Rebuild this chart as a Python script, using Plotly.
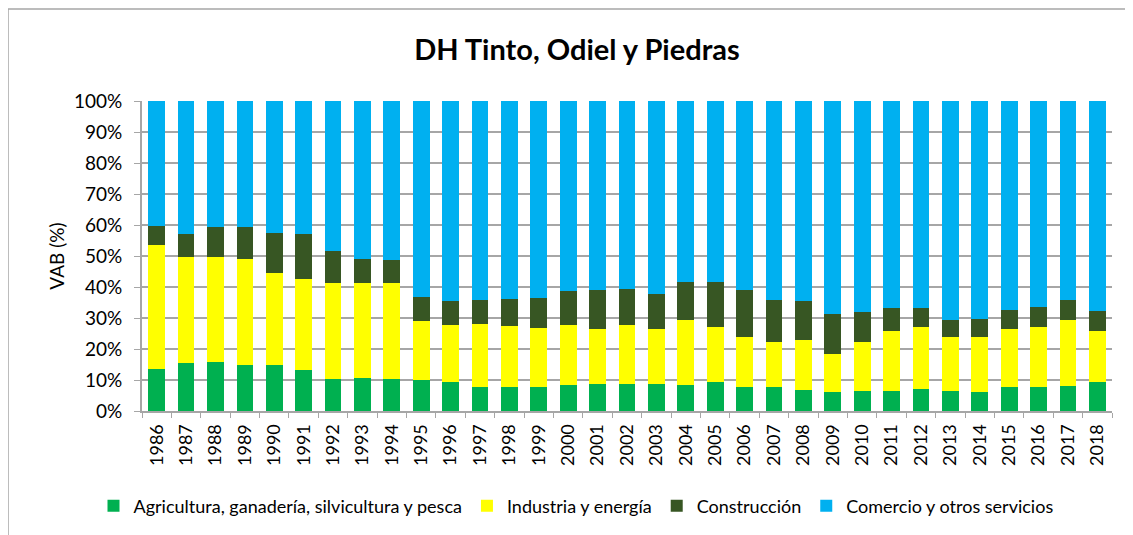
import plotly.graph_objects as go

years = [str(y) for y in range(1986, 2019)]

agricultura = [13.5, 15.4, 15.8, 15.0, 14.8, 13.2, 10.3, 10.6, 10.3, 9.9, 9.4, 7.8, 7.8, 7.6, 8.3, 8.8, 8.8,
               8.8, 8.5, 9.4, 7.6, 7.6, 6.8, 6.1, 6.4, 6.4, 7.0, 6.5, 6.2, 7.8, 7.9, 8.1, 9.5]
industria = [40.0, 34.3, 33.8, 34.1, 29.8, 29.5, 31.0, 30.8, 31.1, 19.1, 18.5, 20.3, 19.7, 19.3, 19.4, 17.8, 18.9,
             17.5, 20.8, 17.7, 16.2, 14.6, 16.1, 12.2, 15.8, 19.4, 20.1, 17.4, 17.6, 18.5, 19.2, 21.4, 16.4]
construccion = [6.2, 7.4, 9.8, 10.3, 12.7, 14.4, 10.2, 7.5, 7.2, 7.7, 7.6, 7.7, 8.6, 9.5, 11.0, 12.3, 11.5,
                11.5, 12.3, 14.4, 15.2, 13.6, 12.6, 13.0, 9.8, 7.4, 6.0, 5.5, 5.9, 6.4, 6.4, 6.3, 6.5]
comercio = [40.3, 42.9, 40.6, 40.6, 42.7, 42.9, 48.5, 51.1, 51.4, 63.3, 64.5, 64.2, 63.9, 63.6, 61.3, 61.1, 60.8,
            62.2, 58.4, 58.5, 61.0, 64.2, 64.5, 68.7, 68.0, 66.8, 66.9, 70.6, 70.3, 67.3, 66.5, 64.2, 67.6]

series = [
    ("Agricultura, ganadería, silvicultura y pesca", agricultura, "#00B050"),
    ("Industria y energía", industria, "#FFFF00"),
    ("Construcción", construccion, "#375623"),
    ("Comercio y otros servicios", comercio, "#00B0F0"),
]

FONT = "Lato"
OFF = 8  # page body margin

fig = go.Figure()
for name, vals, color in series:
    fig.add_trace(go.Bar(x=years, y=vals, name=name, marker=dict(color=color, line=dict(width=0))))

# target page coordinates
L, R, T, B = 142, 1112, 101, 411
W, H = 1133 - OFF, 535 - OFF
l, r, t, b = L - OFF, R - OFF, T - OFF, B - OFF
pw, ph = r - l, b - t

def px(x):
    return (x - OFF - l) / pw

def py(y):
    return (b - (y - OFF)) / ph

fig.update_layout(
    width=W, height=H,
    barmode="stack",
    bargap=0.43,
    plot_bgcolor="white",
    paper_bgcolor="white",
    margin=dict(l=l, r=W - r, t=t, b=H - b, autoexpand=False),
    font=dict(family=FONT, size=19, color="#000000"),
    title=dict(text="<b>DH Tinto, Odiel y Piedras</b>", x=px(577), xref="paper", xanchor="center",
               y=1 - (50 - OFF) / H, yanchor="middle", font=dict(family=FONT, size=29, color="#000000")),
    legend=dict(orientation="h", xref="container", yref="container",
                x=(576 - OFF) / W, xanchor="center", y=1 - (506 - OFF) / H, yanchor="middle",
                font=dict(family=FONT, size=18), traceorder="normal", itemwidth=30,
                bgcolor="rgba(0,0,0,0)"),
    xaxis=dict(type="category", tickangle=-90, tickson="boundaries", ticks="outside", ticklen=5,
               tickcolor="#A6A6A6", showline=True, linecolor="#A6A6A6", linewidth=2,
               tickfont=dict(family=FONT, size=18), showgrid=False, ticklabelstandoff=4),
    yaxis=dict(range=[0, 100], dtick=10, ticksuffix="%", ticks="outside", ticklen=6, tickcolor="#A6A6A6",
               showline=True, linecolor="#A6A6A6", linewidth=2, showgrid=True, gridcolor="#A6A6A6",
               gridwidth=1.5, tickfont=dict(family=FONT, size=19), ticklabelstandoff=8,
               title=dict(text="VAB (%)", font=dict(family=FONT, size=19), standoff=4)),
    shapes=[dict(type="rect", xref="paper", yref="paper", x0=px(8), x1=px(1128), y0=py(560), y1=py(9),
                 line=dict(color="#A6A6A6", width=1.5), layer="below")],
)

fig.write_html("out.html")
